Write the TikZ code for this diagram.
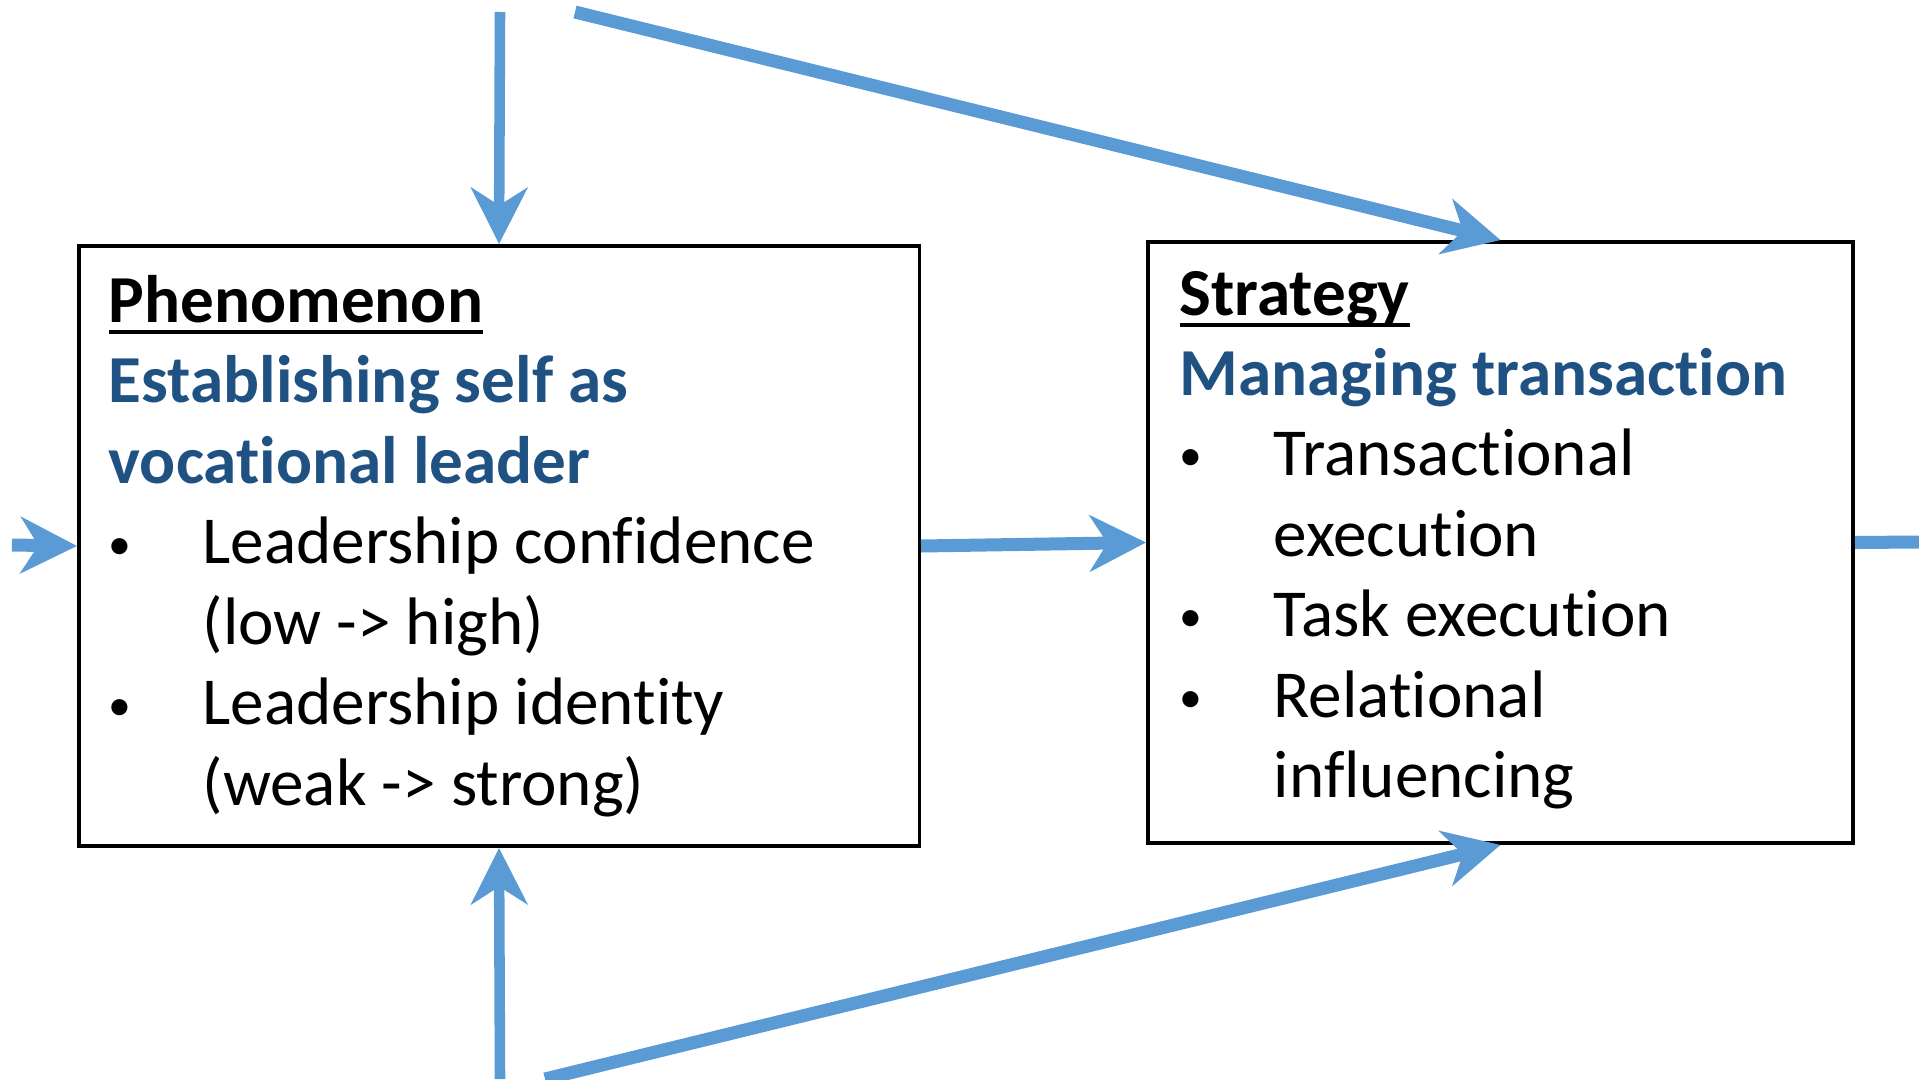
\documentclass[tikz,border=0pt]{standalone}
\usepackage{fontspec}
\setmainfont{Carlito}[Ligatures=NoCommon]
\usetikzlibrary{arrows.meta}

\definecolor{flowblue}{HTML}{5B9BD5}
\definecolor{headblue}{HTML}{1F5183}

% underline that runs through descenders, as in the box titles
\newsavebox\titlebox
\newcommand\titleline[1]{\sbox\titlebox{#1}\rlap{\rule[-3.3pt]{\wd\titlebox}{0.9pt}}\usebox\titlebox}
% small bullet with a fixed tab to the item text
\newcommand\itembul{\makebox[26.7pt][l]{\raisebox{1.2pt}{\fontsize{13}{13}\selectfont •}}}

\begin{document}
\begin{tikzpicture}[x=0.01cm, y=-0.01cm,
  box/.style={draw=black, line width=1pt, inner sep=0pt},
  txt/.style={anchor=base west, inner sep=0pt, font=\fontsize{19.1}{22.9}\selectfont},
  title/.style={txt, font=\fontsize{19.1}{22.9}\selectfont\bfseries},
  head/.style={title, text=headblue},
  flow/.style={draw=flowblue, line width=3.7pt, -{Stealth[length=16pt,width=16pt,inset=5pt]}},
  thinflow/.style={flow, line width=3pt},
]
\useasboundingbox (0,0) rectangle (1919,1079);

% the two boxes
\node[box, minimum width=8.4cm, minimum height=6cm] (phen) at (499,546) {};
\node[box, minimum width=7.05cm, minimum height=6.01cm] (strat) at (1500.5,542.5) {};

% phenomenon box text
\node[title] (phenT)  at (108,322)   {\titleline{Phenomenon}};
\node[head]  (phenH1) at (108,402.5) {Establishing self as};
\node[head]  (phenH2) at (108,483)   {vocational leader};
\node[txt]   (phenA1) at (108,563.5) {\itembul Leadership confidence};
\node[txt]   (phenA2) at (202,644)   {(low -> high)};
\node[txt]   (phenB1) at (108,724.5) {\itembul Leadership identity};
\node[txt]   (phenB2) at (202,805)   {(weak -> strong)};

% strategy box text
\node[title] (stratT)  at (1179,315) {\titleline{Strategy}};
\node[head]  (stratH)  at (1179,395) {Managing transaction};
\node[txt]   (stratA1) at (1179,475) {\itembul Transactional};
\node[txt]   (stratA2) at (1273,556) {execution};
\node[txt]   (stratB)  at (1179,636) {\itembul Task execution};
\node[txt]   (stratC1) at (1179,717) {\itembul Relational};
\node[txt]   (stratC2) at (1273,797) {influencing};

% free ends of the connectors
\coordinate (inS)  at (12,545);
\coordinate (outE) at (1919,542);
\coordinate (topV) at (500,12);
\coordinate (topD) at (575,12);
\coordinate (botV) at (500,1079);
\coordinate (botD) at (545,1079);

% connectors
\draw[flow] (inS) -- (phen.west);
\draw[flow] (phen.east) -- (strat.west);
\draw[draw=flowblue, line width=3.7pt] (strat.east) -- (outE);
\draw[thinflow] (topV) -- (phen.north);
\draw[flow] (topD) -- (strat.north);
\draw[thinflow] (botV) -- (phen.south);
\draw[flow] (botD) -- (strat.south);
\end{tikzpicture}
\end{document}
